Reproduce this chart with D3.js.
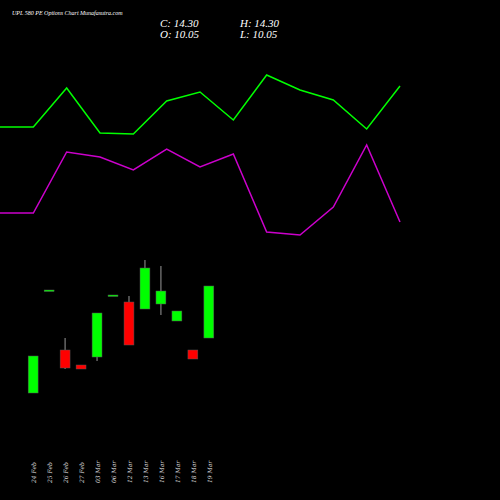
<!DOCTYPE html>
<html><head><meta charset="utf-8">
<script src="https://cdn.jsdelivr.net/npm/d3@7"></script>
<style>body{margin:0;background:#000}</style>
</head><body><div id="chart"></div>
<script>
// Data (values on a 0-50 chart scale)
const dates = ["24 Feb","25 Feb","26 Feb","27 Feb","03 Mar","06 Mar","12 Mar","13 Mar","16 Mar","17 Mar","18 Mar","19 Mar"];
const opens  = [10.7, 21.0, 15.0, 13.5, 14.3, 20.4, 19.8, 19.1, 19.6, 17.9, 15.0, 16.2];
const closes = [14.4, 21.0, 13.2, 13.1, 18.7, 20.5, 15.5, 23.2, 20.9, 18.9, 14.1, 21.4];
const highs  = [14.4, 21.0, 16.2, 13.5, 18.7, 20.5, 20.4, 24.0, 23.4, 18.9, 15.0, 21.4];
const lows   = [10.7, 21.0, 13.1, 13.1, 13.9, 20.4, 15.5, 19.1, 18.5, 17.9, 14.1, 16.2];
const greenLine  = [37.3, 37.3, 41.2, 36.7, 36.6, 39.9, 40.8, 38.0, 42.5, 41.0, 40.0, 37.1, 41.4];
const purpleLine = [28.7, 28.7, 34.8, 34.3, 33.0, 35.1, 33.3, 34.6, 26.8, 26.5, 29.3, 35.5, 27.8];

const W = 500, H = 500;
const svg = d3.select("#chart").append("svg").attr("width", W).attr("height", H)
    .style("background", "#000");

const y = d3.scaleLinear().domain([0, 50]).range([H, 0]);
const xLine = d3.scaleLinear().domain([0, greenLine.length - 1]).range([0, 400]);
const xC = d3.scaleBand().domain(dates).range([25, 217]).paddingInner(0.38).paddingOuter(0.2);

const line = d3.line().x((d, i) => xLine(i)).y(d => y(d));
svg.append("path").datum(greenLine).attr("fill", "none").attr("stroke", "#00ff00").attr("stroke-width", 1.5).attr("d", line);
svg.append("path").datum(purpleLine).attr("fill", "none").attr("stroke", "#cc00cc").attr("stroke-width", 1.5).attr("d", line);

const candles = dates.map((d, i) => ({ d, o: opens[i], c: closes[i], h: highs[i], l: lows[i] }));
const g = svg.append("g");
g.selectAll(".wick").data(candles).enter().append("line")
    .attr("x1", d => xC(d.d) + xC.bandwidth() / 2).attr("x2", d => xC(d.d) + xC.bandwidth() / 2)
    .attr("y1", d => y(d.h)).attr("y2", d => y(d.l))
    .attr("stroke", "#999").attr("stroke-width", 1);
g.selectAll(".body").data(candles).enter().append("rect")
    .attr("x", d => xC(d.d)).attr("width", xC.bandwidth())
    .attr("y", d => y(Math.max(d.o, d.c)))
    .attr("height", d => Math.max(1.5, Math.abs(y(d.o) - y(d.c))))
    .attr("fill", d => d.c >= d.o ? "#00ff00" : "#ff0000")
    .attr("stroke", "#555").attr("stroke-width", 0.5);

// x labels (rotated)
svg.selectAll(".xl").data(dates).enter().append("text")
    .attr("transform", d => `translate(${xC(d) + xC.bandwidth() / 2 + 3},483) rotate(-90)`)
    .attr("fill", "#ddd").attr("font-family", "DejaVu Serif").attr("font-style", "italic")
    .attr("font-size", 6).text(d => d);

const serif = "Liberation Serif";
svg.append("text").attr("x", 12).attr("y", 15).attr("fill", "#fff").attr("font-family", serif)
    .attr("font-style", "italic").attr("font-size", 6).text("UPL 580 PE Options  Chart Munafasutra.com");
const info = [["C: 14.30", 160, 27], ["H: 14.30", 240, 27], ["O: 10.05", 160, 38], ["L: 10.05", 240, 38]];
svg.selectAll(".info").data(info).enter().append("text")
    .attr("x", d => d[1]).attr("y", d => d[2]).attr("fill", "#fff").attr("font-family", serif)
    .attr("font-style", "italic").attr("font-size", 11).text(d => d[0]);
</script></body></html>
